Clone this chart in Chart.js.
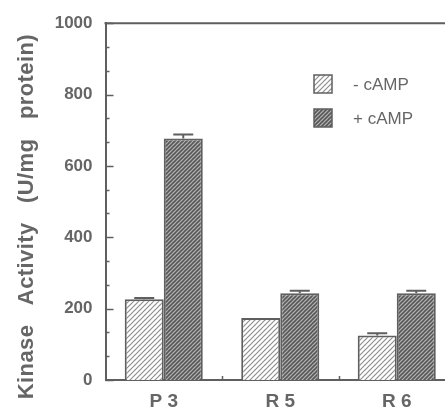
<!DOCTYPE html>
<html>
<head>
<meta charset="utf-8">
<script src="https://cdn.jsdelivr.net/npm/chart.js@4/dist/chart.umd.min.js"></script>
<style>
html,body{margin:0;padding:0;background:#fff;overflow:hidden;}
#wrap{width:460px;height:409px;}
</style>
</head>
<body>
<div id="wrap"><canvas id="c" width="460" height="409"></canvas></div>
<script>
const categories = ['P 3', 'R 5', 'R 6'];
const seriesLabels = ['- cAMP', '+ cAMP'];
const minusValues = [226, 174, 125];
const plusValues = [677, 243, 243];
const minusErrors = [4, 0, 6];
const plusErrors = [11, 7, 7];
const yTickValues = [0, 200, 400, 600, 800, 1000];
const yTitle = 'Kinase   Activity   (U/mg   protein)';

const INK = '#5f5f5f';
const TXT = '#666666';
const FAM = '"Liberation Sans", Arial, Helvetica, sans-serif';

function hatch(bg, fg, size, lw) {
  const c = document.createElement('canvas');
  c.width = size; c.height = size;
  const g = c.getContext('2d');
  g.fillStyle = bg; g.fillRect(0, 0, size, size);
  g.strokeStyle = fg; g.lineWidth = lw; g.lineCap = 'square';
  g.beginPath();
  for (let k = -1; k <= 1; k++) {
    g.moveTo(k * size, size);
    g.lineTo(k * size + size, 0);
  }
  g.stroke();
  return g.createPattern(c, 'repeat');
}
const ctx = document.getElementById('c').getContext('2d');
const lightPat = hatch('#ffffff', '#8f8f8f', 5, 1.2);
const darkPat = hatch('#b3b3b3', '#575757', 4, 1.6);

const errorsByDataset = [minusErrors, plusErrors];

const extras = {
  id: 'extras',
  afterDatasetsDraw(chart) {
    const g = chart.ctx;
    const ys = chart.scales.y, xs = chart.scales.x;
    const a = chart.chartArea;
    g.save();
    // error bars
    g.strokeStyle = INK; g.lineWidth = 2;
    chart.data.datasets.forEach((ds, di) => {
      const meta = chart.getDatasetMeta(di);
      meta.data.forEach((bar, i) => {
        const e = errorsByDataset[di][i];
        if (!e) return;
        const yt = ys.getPixelForValue(ds.data[i] + e);
        g.beginPath();
        g.moveTo(bar.x, bar.y); g.lineTo(bar.x, yt);
        g.moveTo(bar.x - 10, yt); g.lineTo(bar.x + 10, yt);
        g.stroke();
      });
    });
    // y ticks pointing inward (major every 200, minor every 1000/15)
    g.lineWidth = 1.5;
    for (let k = 0; k <= 15; k++) {
      const v = k * 1000 / 15;
      const y = Math.round(ys.getPixelForValue(v)) + 0.5;
      const len = (k % 3 === 0) ? 8 : 4;
      g.beginPath(); g.moveTo(a.left, y); g.lineTo(a.left + len, y); g.stroke();
    }
    // x ticks between categories, inward
    for (let i = 0; i < categories.length - 1; i++) {
      const x = Math.round((xs.getPixelForValue(i) + xs.getPixelForValue(i + 1)) / 2) + 0.5;
      g.beginPath(); g.moveTo(x, a.bottom); g.lineTo(x, a.bottom - 4); g.stroke();
    }
    // top frame
    g.lineWidth = 2;
    g.beginPath(); g.moveTo(a.left - 1, a.top); g.lineTo(a.right, a.top); g.stroke();
    // legend
    const lx = 314, ly = [75, 109];
    chart.data.datasets.forEach((ds, di) => {
      g.fillStyle = ds.backgroundColor;
      g.fillRect(lx, ly[di], 18, 18);
      g.strokeStyle = INK; g.lineWidth = 1.5;
      g.strokeRect(lx, ly[di], 18, 18);
      g.fillStyle = TXT;
      g.font = '17px ' + FAM;
      g.textBaseline = 'middle'; g.textAlign = 'left';
      g.fillText(ds.label, 353, ly[di] + 10);
    });
    // y axis title
    g.translate(33, (a.top + a.bottom) / 2 + 15);
    g.rotate(-Math.PI / 2);
    g.fillStyle = TXT;
    g.font = 'bold 22px ' + FAM;
    if ('letterSpacing' in g) g.letterSpacing = '0.4px';
    g.textAlign = 'center'; g.textBaseline = 'alphabetic';
    g.fillText(yTitle, 0, 0);
    g.restore();
  }
};

new Chart(ctx, {
  type: 'bar',
  data: {
    labels: categories,
    datasets: [
      { label: seriesLabels[0], data: minusValues, backgroundColor: lightPat, borderColor: INK, borderWidth: 2, borderSkipped: 'bottom' },
      { label: seriesLabels[1], data: plusValues, backgroundColor: darkPat, borderColor: INK, borderWidth: 2, borderSkipped: 'bottom' }
    ]
  },
  options: {
    responsive: false,
    animation: false,
    devicePixelRatio: 1,
    layout: { padding: { top: 14, right: 5, bottom: 0, left: 54 } },
    plugins: { legend: { display: false }, tooltip: { enabled: false } },
    datasets: { bar: { barPercentage: 1.0, categoryPercentage: 0.67 } },
    scales: {
      x: {
        offset: true,
        grid: { display: false, drawTicks: false },
        border: { color: INK, width: 2 },
        afterFit: (s) => { s.height = 29; },
        ticks: { color: TXT, padding: 12, font: { family: FAM, size: 19, weight: 'bold', lineHeight: 1.05 } }
      },
      y: {
        min: 0, max: 1000,
        afterBuildTicks: (s) => { s.ticks = yTickValues.map(v => ({ value: v })); },
        grid: { display: false, drawTicks: false },
        border: { color: INK, width: 2 },
        afterFit: (s) => { s.width = 51.5; },
        ticks: { color: TXT, padding: 13, callback: (v) => String(v), font: { family: FAM, size: 17, weight: 'bold' } }
      }
    }
  },
  plugins: [extras]
});
</script>
</body>
</html>
